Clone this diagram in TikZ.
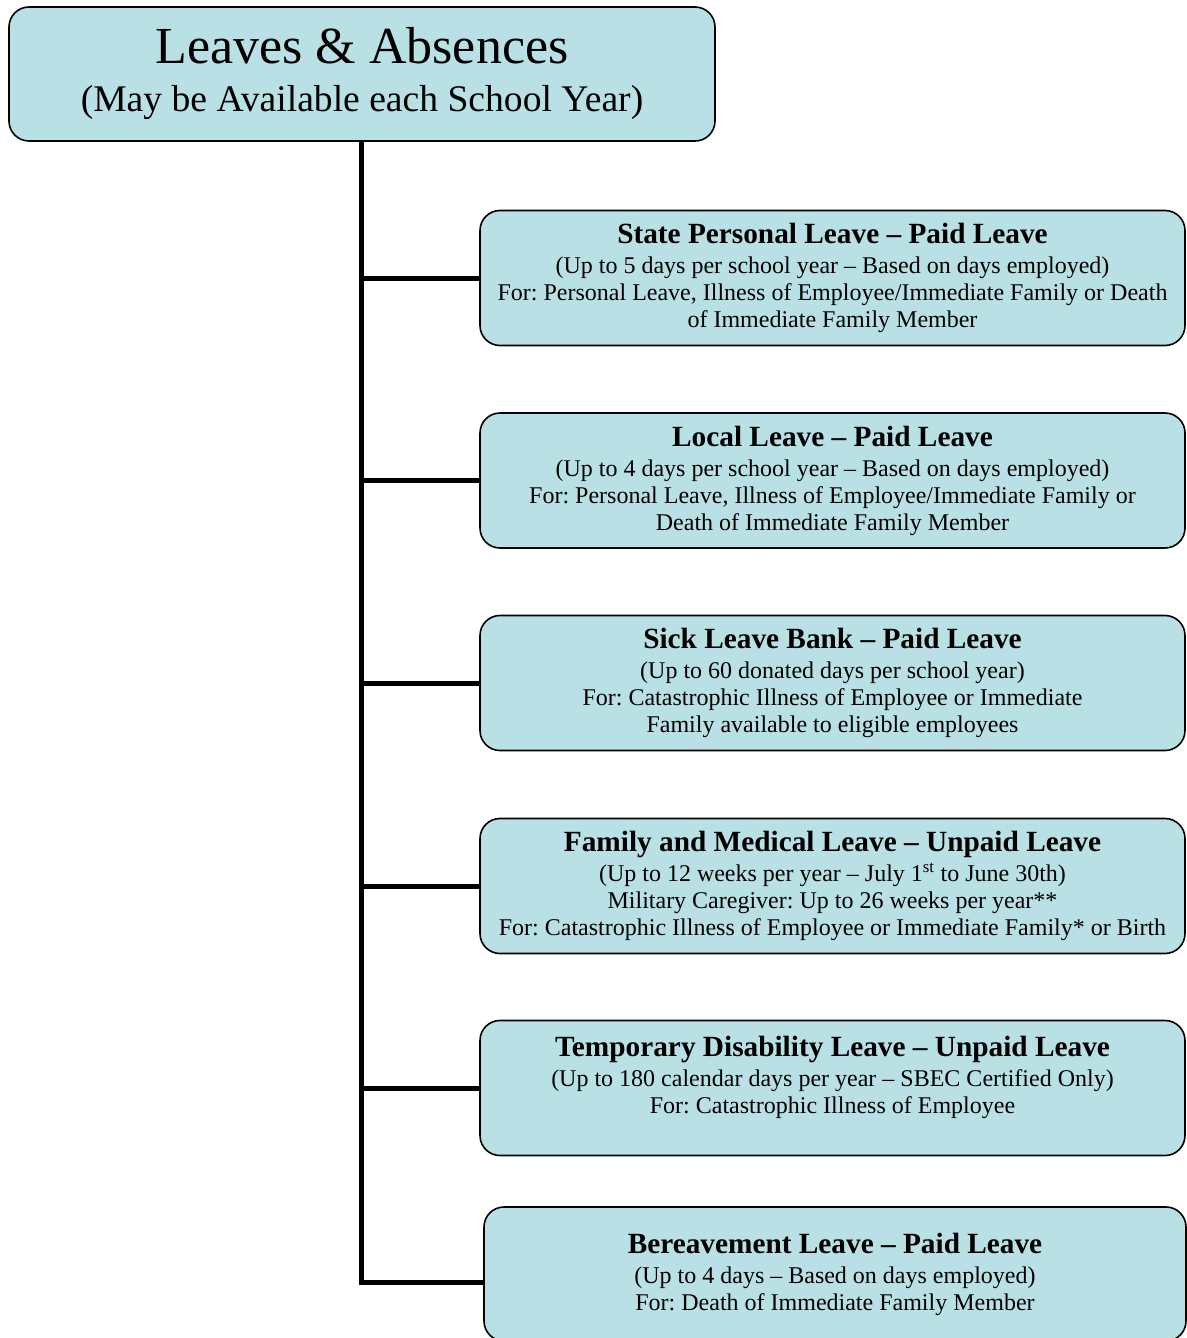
\documentclass[tikz,border=0pt]{standalone}
\usepackage{fontspec}
\setmainfont{Liberation Serif}
\definecolor{boxfill}{RGB}{185,224,228}
\begin{document}
\frenchspacing
\begin{tikzpicture}[x=1pt,y=-1pt,
  box/.style={draw=black, line width=1.6pt, fill=boxfill, rounded corners=20pt, align=center, inner sep=0pt},
  leaf/.style={box, minimum width=705pt, minimum height=135pt, font=\fontsize{24}{27}\selectfont},
  conn/.style={line width=5pt}]
\newcommand{\hd}[1]{{\fontsize{29.3}{30}\selectfont\bfseries #1}}
\useasboundingbox (0,0) rectangle (1186,1338);
\node[box, minimum width=706pt, minimum height=134pt, font=\fontsize{52}{56}\selectfont] (root) at (362,74)
  {Leaves \& Absences\\[-8pt]{\fontsize{37.6}{42}\selectfont (May be Available each School Year)}};
\node[leaf] (b1) at (832.5,278) {\hd{State Personal Leave \textendash{} Paid Leave}\\[3pt]
  (Up to 5 days per school year \textendash{} Based on days employed)\\
  For: Personal Leave, Illness of Employee/Immediate Family or Death\\
  of Immediate Family Member};
\node[leaf] (b2) at (832.5,480.5) {\hd{Local Leave \textendash{} Paid Leave}\\[3pt]
  (Up to 4 days per school year \textendash{} Based on days employed)\\
  For: Personal Leave, Illness of Employee/Immediate Family or\\
  Death of Immediate Family Member};
\node[leaf] (b3) at (832.5,683) {\hd{Sick Leave Bank \textendash{} Paid Leave}\\[3pt]
  (Up to 60 donated days per school year)\\
  For: Catastrophic Illness of Employee or Immediate\\
  Family available to eligible employees};
\node[leaf] (b4) at (832.5,886) {\hd{Family and Medical Leave \textendash{} Unpaid Leave}\\[3pt]
  (Up to 12 weeks per year \textendash{} July 1\textsuperscript{st} to June 30th)\\
  Military Caregiver: Up to 26 weeks per year**\\
  For: Catastrophic Illness of Employee or Immediate Family* or Birth};
\node[leaf] (b5) at (832.5,1088) {\hd{Temporary Disability Leave \textendash{} Unpaid Leave}\\[3pt]
  (Up to 180 calendar days per year \textendash{} SBEC Certified Only)\\
  For: Catastrophic Illness of Employee\\ \mbox{}};
\node[leaf, minimum width=702pt, minimum height=134pt] (b6) at (835,1274) {\hd{Bereavement Leave \textendash{} Paid Leave}\\[3pt]
  (Up to 4 days \textendash{} Based on days employed)\\
  For: Death of Immediate Family Member};
\coordinate (tb) at (361,1282);
\draw[conn] (root.south -| tb) -- (tb) -- (tb -| b6.west);
\foreach \n in {b1,b2,b3,b4,b5}
  \draw[conn] (tb |- \n.west) -- (\n.west);
\end{tikzpicture}
\end{document}
